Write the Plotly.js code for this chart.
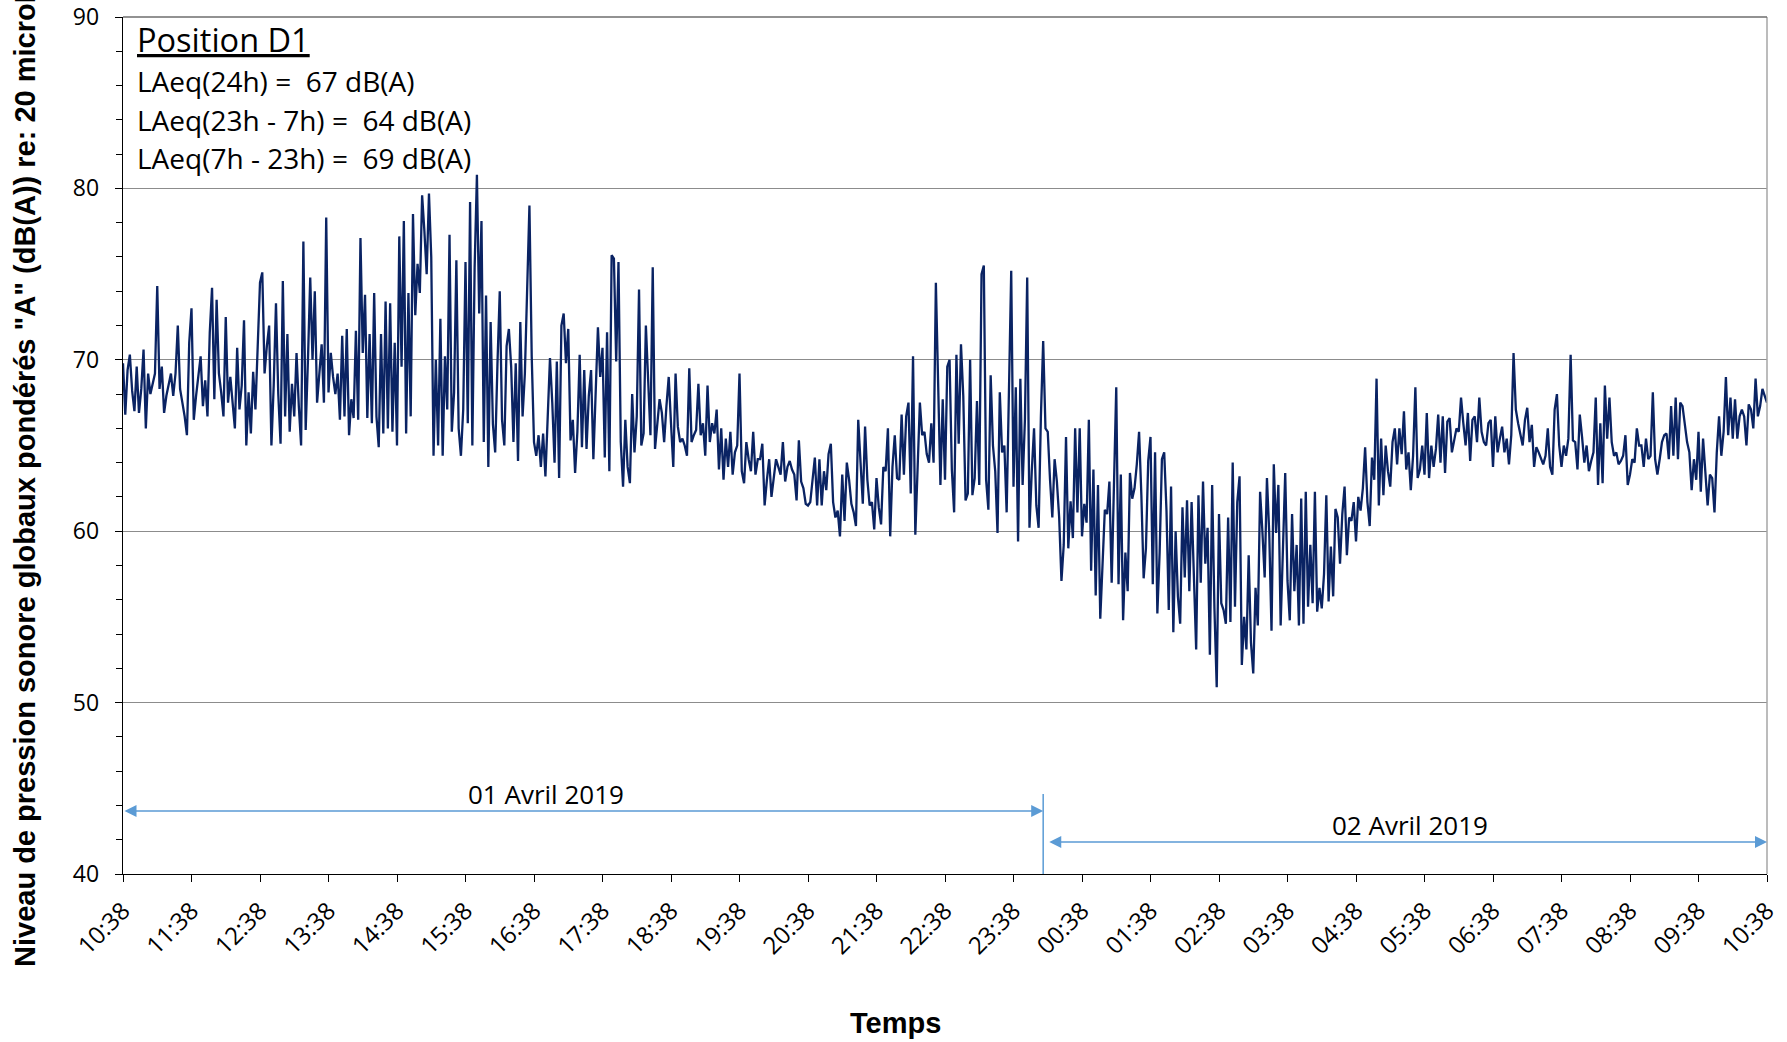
<!DOCTYPE html>
<html><head><meta charset="utf-8">
<script src="https://cdn.plot.ly/plotly-3.0.1.min.js"></script>
<style>html,body{margin:0;padding:0;background:#fff;overflow:hidden}</style>
</head><body>
<div id="chart" style="width:1787px;height:1042px"></div>
<script>
// ---- data (dB(A), one reading every 2 minutes from 01/04/2019 10:38) ----
const startTime = [2019, 3, 1, 10, 38]; // year, month index, day, hour, minute
const stepMinutes = 2;

const levels_1038_1256 = [69.8,66.8,69.4,70.3,68.2,67.0,69.6,66.9,68.3,70.6,66.0,69.2,68.0,68.6,69.2,74.3,68.3,69.6,66.9,67.9,68.6,69.2,67.9,69.2,72.0,68.3,67.5,66.7,65.6,71.0,73.0,66.5,67.9,69.0,70.2,67.3,68.8,66.7,71.6,74.2,67.7,73.5,69.2,68.1,66.7,72.5,67.5,69.0,67.3,66.0,70.7,67.1,68.5,72.3,65.0,68.1,65.7,69.3,67.1,70.4,74.5,75.1,69.2,70.8,72.0,65.0,68.5,73.3,68.0];
const levels_1256_1522 = [65.1,74.6,66.7,71.5,65.8,68.6,66.7,70.4,67.3,65.0,76.9,65.9,70.0,74.8,70.0,74.0,67.5,69.0,70.9,67.5,78.3,68.1,70.4,69.0,68.0,69.2,66.5,71.4,66.7,71.8,65.6,67.7,66.6,71.7,66.5,77.1,70.4,73.8,66.6,71.5,66.3,73.9,66.7,64.9,71.5,65.7,73.4,66.0,73.3,65.8,71.0,65.0,77.2,69.6,78.1,65.7,73.9,66.7,78.5,72.6,75.6,73.9,79.6,77.5,75.0,79.7,76.0,64.4,70.0,65.0,72.4,64.4,70.2,67.1];
const levels_1524_1752 = [77.3,65.8,68.1,75.8,66.0,64.4,67.1,75.7,66.3,79.2,65.0,75.4,80.8,72.7,78.1,65.2,73.75,63.75,72.2,66.25,64.6,69.8,74.0,66.5,65.0,70.8,71.8,69.6,65.2,69.8,64.1,72.2,66.7,69.2,74.5,79.0,70.2,65.2,64.4,65.6,63.75,65.7,63.2,66.7,70.1,67.5,64.0,69.9,63.1,72.0,72.7,69.8,71.8,65.3,66.5,63.4,65.8,70.3,64.9,69.4,64.8,67.9,69.4,64.2,68.3,71.9,69.0,70.7,64.3,71.6,63.5,76.1,75.9,69.9,75.7];
const levels_1754_2020 = [65.2,62.6,66.5,63.75,62.8,68.0,64.6,66.7,74.1,65.0,65.7,72.0,69.2,65.6,75.4,64.8,66.25,67.7,66.9,65.2,67.3,69.0,66.3,63.75,69.2,66.1,65.2,65.4,65.0,64.4,69.5,65.2,65.6,65.9,68.6,65.6,66.3,64.4,68.5,65.2,66.3,65.7,67.1,63.6,66.0,63.0,65.4,63.75,65.8,63.3,64.6,65.0,69.2,63.5,62.8,65.2,64.2,63.5,65.8,63.3,64.2,64.2,65.1,61.5,63.0,64.2,62.0,63.1,64.2,63.75,63.3,65.2,62.9,63.75];
const levels_2022_2250 = [64.1,63.6,63.3,61.8,65.3,62.9,62.5,61.6,61.5,61.7,62.9,64.3,61.5,64.2,61.5,63.5,62.4,64.5,65.1,61.7,60.8,61.2,59.7,63.3,60.6,64.0,63.0,61.6,61.1,60.3,66.5,64.2,61.6,66.1,63.0,61.5,61.7,60.1,63.1,61.4,60.4,63.75,63.5,66.0,59.7,63.75,65.6,63.1,63.0,66.8,63.3,66.7,67.5,62.2,70.2,59.8,63.7,67.5,65.6,65.8,64.5,64.0,66.3,64.0,74.5,69.3,62.7,67.7,63.0,69.6,70.0,63.6,61.1,70.3,65.1];
const levels_2252_0118 = [70.9,67.9,61.8,62.2,70.0,62.1,63.1,67.6,62.7,75.0,75.5,63.0,61.25,69.1,65.0,63.5,59.9,68.1,64.6,65.0,61.1,69.2,75.2,62.6,68.4,59.4,68.9,62.7,66.5,74.8,60.2,63.5,66.0,61.5,60.2,66.7,71.1,66.0,65.8,63.0,60.8,64.2,62.9,60.8,57.1,59.2,65.5,59.0,61.75,59.6,66.0,61.1,66.0,59.7,61.6,60.5,66.5,57.7,63.6,56.25,62.7,54.9,58.3,61.25,61.0,62.9,57.0,62.3,68.4,56.9,63.3,54.8,58.75,56.5];
const levels_0120_0348 = [63.4,61.9,62.5,63.9,65.8,62.1,57.25,59.0,64.1,65.5,56.9,64.6,55.2,58.75,64.2,64.6,61.2,55.4,62.6,54.1,60.0,56.2,54.6,61.4,57.3,61.8,56.5,61.7,57.2,53.1,62.1,57.0,62.9,58.1,60.2,52.8,62.7,55.5,50.9,61.0,55.8,55.4,54.6,60.8,54.7,64.0,55.6,61.7,63.2,52.2,55.0,53.1,58.6,53.5,51.7,56.7,54.5,62.3,60.0,57.3,63.1,59.9,54.2,63.9,59.9,62.7,54.5,59.6,63.4,57.1,54.8,61.0,56.5,59.2,54.5];
const levels_0350_0616 = [61.9,54.6,62.3,55.6,59.2,55.8,62.3,55.3,56.7,55.5,57.5,62.1,55.9,59.1,56.2,61.3,60.8,58.1,61.0,62.6,58.6,60.8,60.6,61.7,59.4,62.0,61.2,62.5,64.9,61.7,60.3,64.3,63.0,68.9,61.5,65.4,62.1,65.0,63.5,62.6,65.2,66.0,63.9,66.0,64.5,67.0,63.6,64.6,62.4,64.4,68.4,63.1,63.6,65.0,63.3,66.9,63.1,65.0,63.75,64.8,66.8,64.0,66.7,63.4,66.4,66.6,64.6,65.2,66.0,65.8,67.8,66.3,65.0,66.9];
const levels_0618_0846 = [64.1,66.5,66.7,65.2,67.8,65.8,65.2,65.0,66.3,66.5,63.75,66.7,64.6,65.4,66.1,64.6,65.4,63.9,65.6,70.4,67.1,66.3,65.6,65.0,66.5,67.2,65.2,66.2,63.75,64.9,64.6,64.2,63.9,64.4,66.0,63.75,63.3,67.1,68.0,65.0,63.75,65.0,64.4,65.4,70.3,65.3,65.2,63.6,66.8,65.5,64.0,65.0,63.5,64.1,64.6,67.8,62.7,66.3,62.8,68.5,65.4,67.8,65.2,64.4,64.6,63.9,64.1,64.4,65.6,62.7,63.3,64.2,64.0,66.0,65.0];
const levels_0848_1038 = [65.0,63.75,65.4,64.2,64.4,68.1,64.2,63.3,64.2,65.2,65.6,65.7,64.2,67.3,64.4,67.8,64.2,67.5,67.3,66.3,65.2,64.6,62.4,64.2,63.0,65.8,62.3,65.4,63.3,61.5,63.3,63.1,61.1,64.6,66.7,64.4,65.8,69.0,65.6,67.8,65.4,67.7,65.4,66.7,67.1,66.7,65.0,67.4,67.1,66.0,68.9,66.7,67.3,68.3,67.9,67.5];

const levels = [].concat(levels_1038_1256, levels_1256_1522, levels_1524_1752, levels_1754_2020,
  levels_2022_2250, levels_2252_0118, levels_0120_0348, levels_0350_0616, levels_0618_0846, levels_0848_1038);

// texts
const infoTitle = 'Position D1';
const infoLines = ['LAeq(24h) =\u00a0 67 dB(A)', 'LAeq(23h - 7h) =\u00a0 64 dB(A)', 'LAeq(7h - 23h) =\u00a0 69 dB(A)'];
const dayLabels = ['01 Avril 2019', '02 Avril 2019'];
const dayStart = ['2019-04-01 10:38', '2019-04-02 00:08'];
const dayEnd = ['2019-04-02 00:04', '2019-04-02 10:38'];
const dayBreak = '2019-04-02 00:04';
const yTitle = 'Niveau de pression sonore globaux pondérés "A" (dB(A)) re: 20 microPa';
const xTitle = 'Temps';

// ---- build time axis ----
function pad(n) { return (n < 10 ? '0' : '') + n; }
const t0 = Date.UTC(startTime[0], startTime[1], startTime[2], startTime[3], startTime[4]);
const times = levels.map((v, i) => {
  const d = new Date(t0 + i * stepMinutes * 60000);
  return d.getUTCFullYear() + '-' + pad(d.getUTCMonth() + 1) + '-' + pad(d.getUTCDate()) + ' ' +
    pad(d.getUTCHours()) + ':' + pad(d.getUTCMinutes());
});

// ---- layout geometry (pixels) ----
const L = 123, R = 20, T = 17, B = 168, W = 1787, H = 1042;
const pw = W - L - R, ph = H - T - B;
const px = x => (x - L) / pw;
const py = y => (H - B - y) / ph;

const textFont = 'Open Sans, Liberation Sans, Arial, sans-serif';
const boldFont = 'Liberation Sans, Arial, sans-serif';
const arrowBlue = '#5b9bd5';

const trace = {
  x: times, y: levels, type: 'scatter', mode: 'lines',
  line: { color: '#0a2363', width: 2.3 }, hoverinfo: 'skip', cliponaxis: false
};

const annotations = [
  { xref: 'paper', yref: 'paper', x: px(135), y: py(40), xanchor: 'left', yanchor: 'middle',
    text: '<u>' + infoTitle + '</u>', showarrow: false, font: { family: textFont, size: 32.5, color: '#000' } }
];
const lineY = [81, 120, 158];
infoLines.forEach((s, k) => annotations.push({
  xref: 'paper', yref: 'paper', x: px(135), y: py(lineY[k]), xanchor: 'left', yanchor: 'middle',
  text: s, showarrow: false, font: { family: textFont, size: 28, color: '#000' }
}));
// day arrows
const arrowY = [43.68, 41.87];
dayLabels.forEach((s, k) => annotations.push({
  xref: 'x', yref: 'y', x: dayEnd[k], y: arrowY[k], axref: 'x', ayref: 'y', ax: dayStart[k], ay: arrowY[k],
  text: '', showarrow: true, arrowside: 'end+start', arrowhead: 2, startarrowhead: 2,
  arrowsize: 1.6, startarrowsize: 1.6, arrowwidth: 1.5, arrowcolor: arrowBlue, standoff: 0, startstandoff: 0
}));
const labelPos = [[546, 794], [1410, 825]];
dayLabels.forEach((s, k) => annotations.push({
  xref: 'paper', yref: 'paper', x: px(labelPos[k][0]), y: py(labelPos[k][1]), xanchor: 'center', yanchor: 'middle',
  text: s, showarrow: false, font: { family: textFont, size: 26, color: '#000' }
}));
// axis titles
annotations.push({
  xref: 'paper', yref: 'paper', x: px(25), y: py(969), xanchor: 'center', yanchor: 'bottom', textangle: -90,
  text: yTitle, showarrow: false, font: { family: boldFont, size: 29, color: '#000', weight: 700 }
});
annotations.push({
  xref: 'paper', yref: 'paper', x: px(895), y: py(1023), xanchor: 'center', yanchor: 'middle',
  text: xTitle, showarrow: false, font: { family: boldFont, size: 29, color: '#000', weight: 700 }
});

const layout = {
  width: W, height: H,
  margin: { l: L, r: R, t: T, b: B, pad: 0 },
  paper_bgcolor: '#fff', plot_bgcolor: '#fff',
  showlegend: false,
  font: { family: textFont, color: '#000' },
  xaxis: {
    type: 'date', range: ['2019-04-01 10:38', '2019-04-02 10:38'],
    tick0: '2019-04-01 10:38', dtick: 3600000, tickformat: '%H:%M', tickangle: -45,
    ticks: 'outside', ticklen: 7, tickcolor: '#000', tickwidth: 1,
    showline: true, linecolor: '#000', linewidth: 1.3, showgrid: false, zeroline: false,
    tickfont: { family: textFont, size: 24, color: '#000' }, ticklabelstandoff: 5,
    ticklabeloverflow: 'allow'
  },
  yaxis: {
    range: [40, 90], dtick: 10, tick0: 40, ticks: 'outside', ticklen: 7, tickcolor: '#000',
    minor: { dtick: 2, ticks: 'outside', ticklen: 6, tickcolor: '#000', showgrid: false },
    showline: true, linecolor: '#000', linewidth: 1.3, showgrid: true, gridcolor: '#8c8c8c', gridwidth: 1,
    zeroline: false, tickfont: { family: textFont, size: 23, color: '#000' }, ticklabelstandoff: 11,
    ticklabeloverflow: 'allow'
  },
  shapes: [
    { type: 'line', xref: 'x', yref: 'y', x0: dayBreak, x1: dayBreak, y0: 40, y1: 44.67,
      line: { color: arrowBlue, width: 1.5 } },
    { type: 'line', xref: 'paper', yref: 'paper', x0: 1, x1: 1, y0: 0, y1: 1,
      line: { color: '#a6a6a6', width: 1.5 } },
    { type: 'line', xref: 'paper', yref: 'paper', x0: 0, x1: 1, y0: 1, y1: 1,
      line: { color: '#6e6e6e', width: 1.3 } }
  ],
  annotations: annotations
};

Plotly.newPlot('chart', [trace], layout, { displayModeBar: false, staticPlot: true });
</script>
</body></html>
